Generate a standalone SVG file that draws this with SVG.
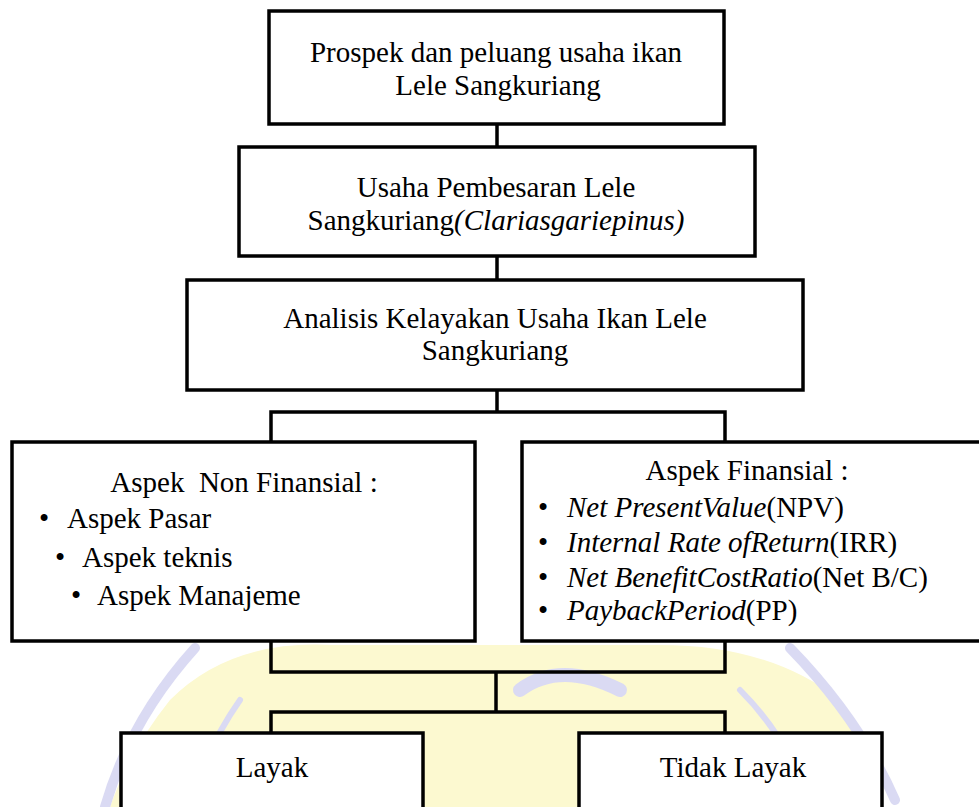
<svg xmlns="http://www.w3.org/2000/svg" width="979" height="807" viewBox="0 0 979 807">
<style>
.box{fill:#fff;stroke:#000;stroke-width:3.5}
.c{fill:none;stroke:#000;stroke-width:3.5}
text{font-family:"Liberation Serif","Times New Roman",serif;font-size:29px;fill:#000;white-space:pre}
.m{text-anchor:middle}
.i{font-style:italic}
.wm{fill:none;stroke:#d4d4f2;stroke-linecap:round}
</style>
<rect width="979" height="807" fill="#fff"/>
<g id="watermark" opacity="0.85">
<path d="M170 700 Q230 640 330 645 L660 645 Q770 645 840 700 Q870 760 880 807 L110 807 Q130 750 170 700Z" fill="#fcf8c8"/>
<path class="wm" stroke-width="10" d="M195 648 Q130 720 105 807"/>
<path class="wm" stroke-width="10" d="M790 648 Q860 720 895 800"/>
<path class="wm" stroke-width="6" d="M240 700 Q205 750 190 807"/>
<path class="wm" stroke-width="6" d="M740 690 Q790 740 810 807"/>
<path class="wm" stroke-width="14" d="M520 690 Q560 660 620 690"/>
</g>
<g id="connectors">
<path class="c" d="M497 124V147M497 256V280M497 390V412M271 442V412H725V442M271 641V672H725V641M496 672V712M271 733V712H725V733"/>
</g>
<g id="n1"><rect class="box" x="269" y="11" width="455" height="113"/>
<text class="m" x="496" y="62">Prospek dan peluang usaha ikan</text>
<text class="m" x="498" y="95">Lele Sangkuriang</text></g>
<g id="n2"><rect class="box" x="239" y="147" width="516" height="109"/>
<text class="m" x="496" y="197">Usaha Pembesaran Lele</text>
<text class="m" x="496" y="230">Sangkuriang<tspan class="i">(Clariasgariepinus)</tspan></text></g>
<g id="n3"><rect class="box" x="187" y="280" width="616" height="110"/>
<text class="m" x="495" y="328">Analisis Kelayakan Usaha Ikan Lele</text>
<text class="m" x="495" y="360">Sangkuriang</text></g>
<g id="n4"><rect class="box" x="12" y="442" width="463" height="199"/>
<text class="m" x="244" y="492">Aspek  Non Finansial :</text>
<text x="39" y="528">•</text><text x="67" y="528">Aspek Pasar</text>
<text x="55" y="567">•</text><text x="82" y="567">Aspek teknis</text>
<text x="71" y="605">•</text><text x="97" y="605">Aspek Manajeme</text></g>
<g id="n5"><rect class="box" x="522" y="442" width="475" height="199"/>
<text class="m" x="747" y="480">Aspek Finansial :</text>
<text x="538" y="517">•</text><text x="567" y="517"><tspan class="i">Net PresentValue</tspan>(NPV)</text>
<text x="538" y="552">•</text><text x="567" y="552"><tspan class="i">Internal Rate ofReturn</tspan>(IRR)</text>
<text x="538" y="587">•</text><text x="567" y="587"><tspan class="i">Net BenefitCostRatio</tspan>(Net B/C)</text>
<text x="538" y="620">•</text><text x="567" y="620"><tspan class="i">PaybackPeriod</tspan>(PP)</text></g>
<g id="n6"><rect class="box" x="121" y="733" width="302" height="90"/>
<text class="m" x="272" y="777">Layak</text></g>
<g id="n7"><rect class="box" x="579" y="733" width="303" height="90"/>
<text class="m" x="733" y="777">Tidak Layak</text></g>
</svg>
